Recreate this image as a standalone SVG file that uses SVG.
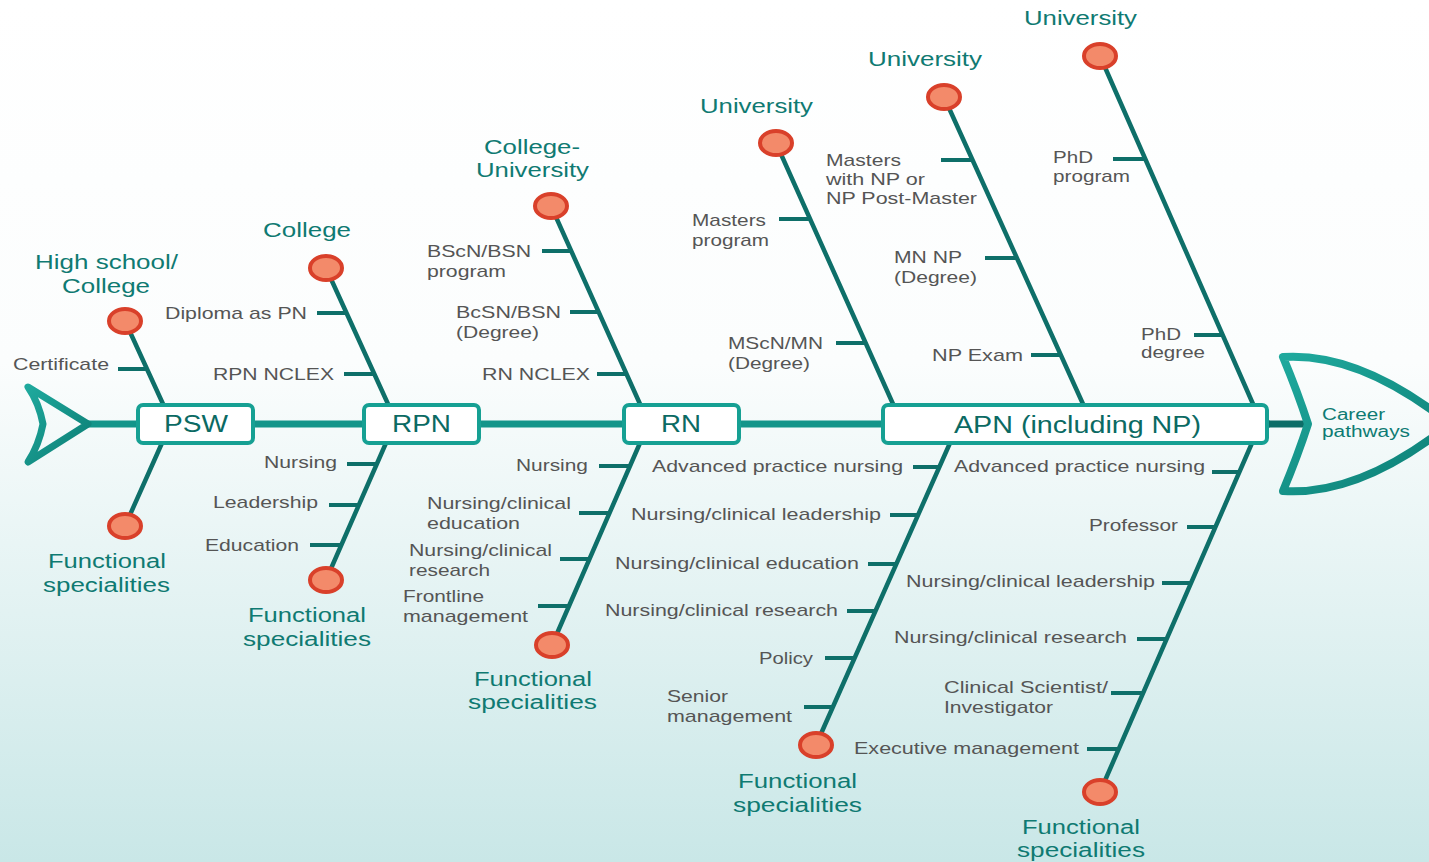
<svg xmlns="http://www.w3.org/2000/svg" width="1429" height="862" viewBox="0 0 1429 862">
<defs>
<linearGradient id="bg" x1="0" y1="0" x2="0" y2="1">
<stop offset="0" stop-color="#ffffff"/>
<stop offset="0.42" stop-color="#fbfdfd"/>
<stop offset="1" stop-color="#c9e7e7"/>
</linearGradient>
<linearGradient id="tealg" x1="0" y1="0" x2="1" y2="1">
<stop offset="0" stop-color="#1fa99d"/>
<stop offset="1" stop-color="#0c7d74"/>
</linearGradient>
<style>
.bone{stroke:#0e6f69;stroke-width:4.5;stroke-linecap:round;fill:none}
.tick{stroke:#0e6f69;stroke-width:4;stroke-linecap:butt;fill:none}
.dot{fill:#f38a6a;stroke:#d9402a;stroke-width:4}
.box{fill:#ffffff;stroke:#16a093;stroke-width:4}
.t{font-family:"Liberation Sans",Arial,sans-serif;font-size:17px;fill:#555555}
.ti{font-family:"Liberation Sans",Arial,sans-serif;font-size:20px;fill:#0f7a72}
.bl{font-family:"Liberation Sans",Arial,sans-serif;font-size:23px;fill:#0b6a63}
.cp{font-family:"Liberation Sans",Arial,sans-serif;font-size:16px;fill:#0e7b73}
</style>
</defs>
<rect width="1429" height="862" fill="url(#bg)"/>

<g id="connectors">
<line x1="88" y1="424" x2="1270" y2="424" stroke="#13958a" stroke-width="7"/>
<line x1="1266" y1="424" x2="1308" y2="424" stroke="#0d6e68" stroke-width="7"/>
<line class="bone" x1="125" y1="321" x2="163" y2="404"/>
<line class="bone" x1="162" y1="443" x2="125" y2="526"/>
<line class="bone" x1="326" y1="268" x2="388" y2="404"/>
<line class="bone" x1="386" y1="443" x2="326" y2="580"/>
<line class="bone" x1="551" y1="206" x2="640" y2="404"/>
<line class="bone" x1="640" y1="443" x2="552" y2="645"/>
<line class="bone" x1="776" y1="143" x2="893" y2="404"/>
<line class="bone" x1="944" y1="97" x2="1083" y2="404"/>
<line class="bone" x1="1100" y1="56" x2="1253" y2="404"/>
<line class="bone" x1="950" y1="443" x2="816" y2="745"/>
<line class="bone" x1="1252" y1="443" x2="1100" y2="792"/>
<!-- ticks -->
<path class="tick" d="M118,369H147 M317,313H347 M344,374H374 M347,464H377 M329,505H359 M310,545H341 M542,251H571 M570,312H599 M597,374H627 M599,466H630 M579,513H610 M560,559H590 M538,606H569 M779,219H810 M836,343H866 M941,160H973 M985,258H1017 M1031,355H1061 M1113,159H1145 M1194,335H1223 M913,467H939 M890,515H918 M868,564H896 M847,611H876 M825,658H855 M804,707H833 M1212,472H1239 M1187,527H1215 M1162,583H1191 M1137,639H1167 M1111,693H1143 M1087,749H1119"/>
</g>

<g id="tail">
<path d="M28,387 L88,424 L28,462 Q39,445 43,424 Q39,403 28,387 Z" fill="none" stroke="url(#tealg)" stroke-width="7" stroke-linejoin="round"/>
</g>

<g id="head">
<path d="M1283,357 Q1360,352 1450,424 Q1360,496 1283,491 Q1298,455 1308,424 Q1298,393 1283,357 Z" fill="none" stroke="url(#tealg)" stroke-width="8" stroke-linejoin="round"/>
<text class="cp" x="1322" y="420" textLength="63" lengthAdjust="spacingAndGlyphs">Career</text>
<text class="cp" x="1322" y="437" textLength="88" lengthAdjust="spacingAndGlyphs">pathways</text>
</g>

<g id="node-psw">
<rect class="box" x="138" y="405" width="115" height="38" rx="5"/>
<text class="bl" x="164" y="432" textLength="64" lengthAdjust="spacingAndGlyphs">PSW</text>
</g>
<g id="node-rpn">
<rect class="box" x="364" y="405" width="115" height="38" rx="5"/>
<text class="bl" x="392" y="432" textLength="59" lengthAdjust="spacingAndGlyphs">RPN</text>
</g>
<g id="node-rn">
<rect class="box" x="624" y="405" width="115" height="38" rx="5"/>
<text class="bl" x="661" y="432" textLength="40" lengthAdjust="spacingAndGlyphs">RN</text>
</g>
<g id="node-apn">
<rect class="box" x="883" y="405" width="384" height="38" rx="5"/>
<text class="bl" x="954" y="433" textLength="247" lengthAdjust="spacingAndGlyphs">APN (including NP)</text>
</g>

<g id="psw-top">
<ellipse class="dot" cx="125" cy="321" rx="16" ry="12"/>
<text class="ti" x="35" y="269" textLength="143" lengthAdjust="spacingAndGlyphs">High school/</text>
<text class="ti" x="62" y="293" textLength="88" lengthAdjust="spacingAndGlyphs">College</text>
<text class="t" x="13" y="370" textLength="96" lengthAdjust="spacingAndGlyphs">Certificate</text>
</g>
<g id="psw-bottom">
<ellipse class="dot" cx="125" cy="526" rx="16" ry="12"/>
<text class="ti" x="48" y="568" textLength="118" lengthAdjust="spacingAndGlyphs">Functional</text>
<text class="ti" x="43" y="592" textLength="127" lengthAdjust="spacingAndGlyphs">specialities</text>
</g>

<g id="rpn-top">
<ellipse class="dot" cx="326" cy="268" rx="16" ry="12"/>
<text class="ti" x="263" y="237" textLength="88" lengthAdjust="spacingAndGlyphs">College</text>
<text class="t" x="165" y="319" textLength="142" lengthAdjust="spacingAndGlyphs">Diploma as PN</text>
<text class="t" x="213" y="380" textLength="121" lengthAdjust="spacingAndGlyphs">RPN NCLEX</text>
</g>
<g id="rpn-bottom">
<ellipse class="dot" cx="326" cy="580" rx="16" ry="12"/>
<text class="t" x="264" y="468" textLength="73" lengthAdjust="spacingAndGlyphs">Nursing</text>
<text class="t" x="213" y="508" textLength="105" lengthAdjust="spacingAndGlyphs">Leadership</text>
<text class="t" x="205" y="551" textLength="94" lengthAdjust="spacingAndGlyphs">Education</text>
<text class="ti" x="248" y="622" textLength="118" lengthAdjust="spacingAndGlyphs">Functional</text>
<text class="ti" x="243" y="646" textLength="128" lengthAdjust="spacingAndGlyphs">specialities</text>
</g>

<g id="rn-top">
<ellipse class="dot" cx="551" cy="206" rx="16" ry="12"/>
<text class="ti" x="484" y="154" textLength="96" lengthAdjust="spacingAndGlyphs">College-</text>
<text class="ti" x="476" y="177" textLength="113" lengthAdjust="spacingAndGlyphs">University</text>
<text class="t" x="427" y="257" textLength="104" lengthAdjust="spacingAndGlyphs">BScN/BSN</text>
<text class="t" x="427" y="277" textLength="79" lengthAdjust="spacingAndGlyphs">program</text>
<text class="t" x="456" y="318" textLength="105" lengthAdjust="spacingAndGlyphs">BcSN/BSN</text>
<text class="t" x="456" y="338" textLength="83" lengthAdjust="spacingAndGlyphs">(Degree)</text>
<text class="t" x="482" y="380" textLength="108" lengthAdjust="spacingAndGlyphs">RN NCLEX</text>
</g>
<g id="rn-bottom">
<ellipse class="dot" cx="552" cy="645" rx="16" ry="12"/>
<text class="t" x="516" y="471" textLength="72" lengthAdjust="spacingAndGlyphs">Nursing</text>
<text class="t" x="427" y="509" textLength="144" lengthAdjust="spacingAndGlyphs">Nursing/clinical</text>
<text class="t" x="427" y="529" textLength="93" lengthAdjust="spacingAndGlyphs">education</text>
<text class="t" x="409" y="556" textLength="143" lengthAdjust="spacingAndGlyphs">Nursing/clinical</text>
<text class="t" x="409" y="576" textLength="81" lengthAdjust="spacingAndGlyphs">research</text>
<text class="t" x="403" y="602" textLength="81" lengthAdjust="spacingAndGlyphs">Frontline</text>
<text class="t" x="403" y="622" textLength="125" lengthAdjust="spacingAndGlyphs">management</text>
<text class="ti" x="474" y="686" textLength="118" lengthAdjust="spacingAndGlyphs">Functional</text>
<text class="ti" x="468" y="709" textLength="129" lengthAdjust="spacingAndGlyphs">specialities</text>
</g>

<g id="apn-top-1">
<ellipse class="dot" cx="776" cy="143" rx="16" ry="12"/>
<text class="ti" x="700" y="113" textLength="113" lengthAdjust="spacingAndGlyphs">University</text>
<text class="t" x="692" y="226" textLength="74" lengthAdjust="spacingAndGlyphs">Masters</text>
<text class="t" x="692" y="246" textLength="77" lengthAdjust="spacingAndGlyphs">program</text>
<text class="t" x="728" y="349" textLength="95" lengthAdjust="spacingAndGlyphs">MScN/MN</text>
<text class="t" x="728" y="369" textLength="82" lengthAdjust="spacingAndGlyphs">(Degree)</text>
</g>
<g id="apn-top-2">
<ellipse class="dot" cx="944" cy="97" rx="16" ry="12"/>
<text class="ti" x="868" y="66" textLength="114" lengthAdjust="spacingAndGlyphs">University</text>
<text class="t" x="826" y="166" textLength="75" lengthAdjust="spacingAndGlyphs">Masters</text>
<text class="t" x="826" y="185" textLength="99" lengthAdjust="spacingAndGlyphs">with NP or</text>
<text class="t" x="826" y="204" textLength="151" lengthAdjust="spacingAndGlyphs">NP Post-Master</text>
<text class="t" x="894" y="263" textLength="68" lengthAdjust="spacingAndGlyphs">MN NP</text>
<text class="t" x="894" y="283" textLength="83" lengthAdjust="spacingAndGlyphs">(Degree)</text>
<text class="t" x="932" y="361" textLength="91" lengthAdjust="spacingAndGlyphs">NP Exam</text>
</g>
<g id="apn-top-3">
<ellipse class="dot" cx="1100" cy="56" rx="16" ry="12"/>
<text class="ti" x="1024" y="25" textLength="113" lengthAdjust="spacingAndGlyphs">University</text>
<text class="t" x="1053" y="163" textLength="40" lengthAdjust="spacingAndGlyphs">PhD</text>
<text class="t" x="1053" y="182" textLength="77" lengthAdjust="spacingAndGlyphs">program</text>
<text class="t" x="1141" y="340" textLength="40" lengthAdjust="spacingAndGlyphs">PhD</text>
<text class="t" x="1141" y="358" textLength="64" lengthAdjust="spacingAndGlyphs">degree</text>
</g>
<g id="apn-bottom-1">
<ellipse class="dot" cx="816" cy="745" rx="16" ry="12"/>
<text class="t" x="652" y="472" textLength="251" lengthAdjust="spacingAndGlyphs">Advanced practice nursing</text>
<text class="t" x="631" y="520" textLength="250" lengthAdjust="spacingAndGlyphs">Nursing/clinical leadership</text>
<text class="t" x="615" y="569" textLength="244" lengthAdjust="spacingAndGlyphs">Nursing/clinical education</text>
<text class="t" x="605" y="616" textLength="233" lengthAdjust="spacingAndGlyphs">Nursing/clinical research</text>
<text class="t" x="759" y="664" textLength="54" lengthAdjust="spacingAndGlyphs">Policy</text>
<text class="t" x="667" y="702" textLength="61" lengthAdjust="spacingAndGlyphs">Senior</text>
<text class="t" x="667" y="722" textLength="125" lengthAdjust="spacingAndGlyphs">management</text>
<text class="ti" x="738" y="788" textLength="119" lengthAdjust="spacingAndGlyphs">Functional</text>
<text class="ti" x="733" y="812" textLength="129" lengthAdjust="spacingAndGlyphs">specialities</text>
</g>
<g id="apn-bottom-2">
<ellipse class="dot" cx="1100" cy="792" rx="16" ry="12"/>
<text class="t" x="954" y="472" textLength="251" lengthAdjust="spacingAndGlyphs">Advanced practice nursing</text>
<text class="t" x="1089" y="531" textLength="89" lengthAdjust="spacingAndGlyphs">Professor</text>
<text class="t" x="906" y="587" textLength="249" lengthAdjust="spacingAndGlyphs">Nursing/clinical leadership</text>
<text class="t" x="894" y="643" textLength="233" lengthAdjust="spacingAndGlyphs">Nursing/clinical research</text>
<text class="t" x="944" y="693" textLength="164" lengthAdjust="spacingAndGlyphs">Clinical Scientist/</text>
<text class="t" x="944" y="713" textLength="109" lengthAdjust="spacingAndGlyphs">Investigator</text>
<text class="t" x="854" y="754" textLength="225" lengthAdjust="spacingAndGlyphs">Executive management</text>
<text class="ti" x="1022" y="834" textLength="118" lengthAdjust="spacingAndGlyphs">Functional</text>
<text class="ti" x="1017" y="857" textLength="128" lengthAdjust="spacingAndGlyphs">specialities</text>
</g>
</svg>
